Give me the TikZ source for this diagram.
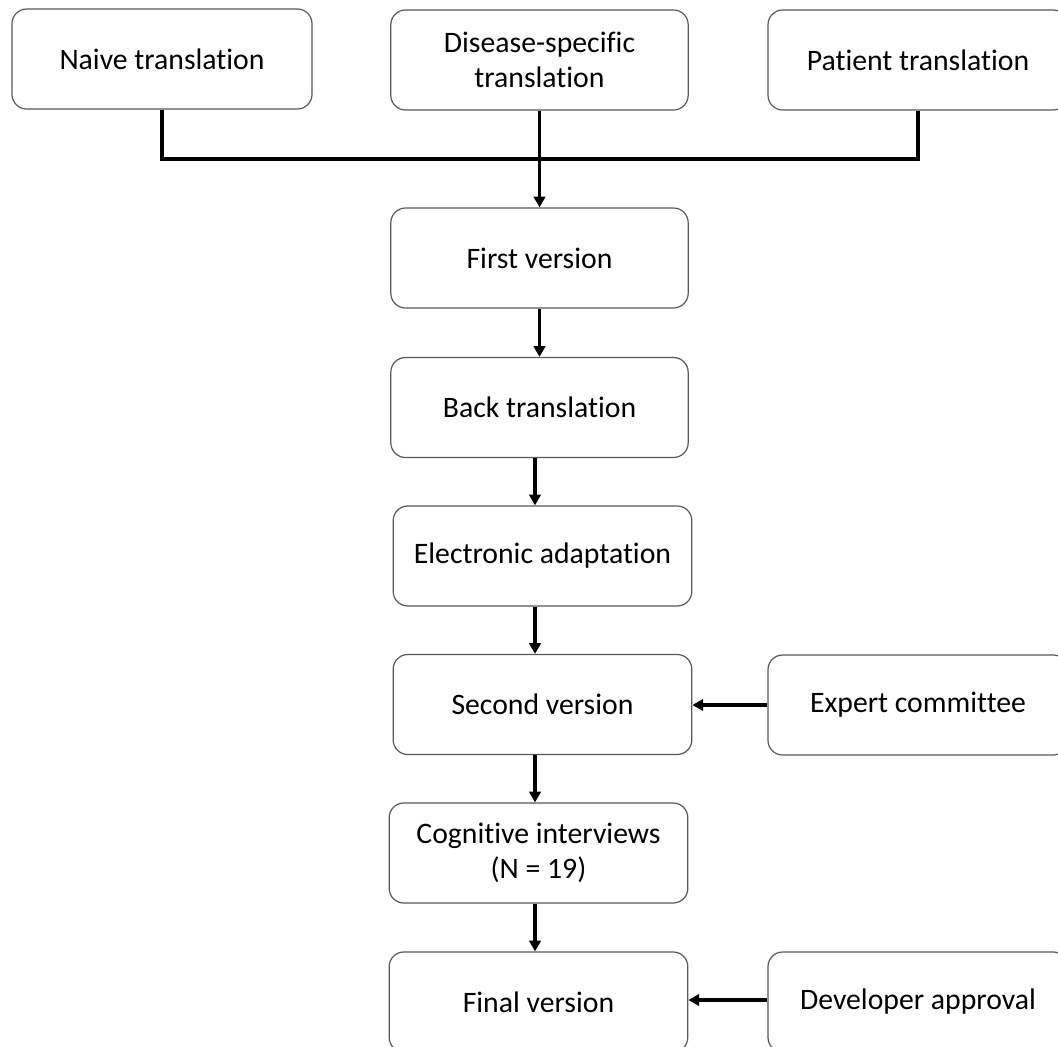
\documentclass[tikz,border=0pt]{standalone}
\usepackage{fontspec}
\setmainfont{Carlito}[Ligatures=NoCommon]
\usetikzlibrary{arrows.meta}
\begin{document}
\begin{tikzpicture}[x=0.75pt,y=-0.75pt,
  box/.style={draw=black!65, line width=0.9pt, rounded corners=11pt, fill=white,
    align=center, inner sep=0pt, font=\fontsize{22.3}{26.5}\selectfont,
    minimum height=75pt},
  wbox/.style={box, minimum width=225pt},
  cbox/.style={box, minimum width=223pt},
  conn/.style={line width=2.6pt, line join=miter},
  arr/.style={conn, -{Triangle[length=8pt,width=8.5pt]}}]
\clip (0,0) rectangle (1058,1047);
\fill[white] (0,0) rectangle (1058,1047);
% top row
\node[wbox] (naive) at (162,59) {Naive translation};
\node[cbox] (disease) at (539.5,60) {Disease-specific\\translation};
\node[wbox] (patient) at (918,60) {Patient translation};
% column
\node[cbox] (first) at (539.5,258) {First version};
\node[cbox] (back) at (539.5,407.5) {Back translation};
\node[box, minimum width=224pt] (elec) at (542.5,556) {Electronic adaptation};
\node[box, minimum width=224pt] (second) at (542.5,704.5) {Second version};
\node[wbox] (expert) at (918,705) {Expert committee};
\node[box, minimum width=224pt] (cog) at (538.5,853) {Cognitive interviews\\(N = 19)};
\node[box, minimum width=224pt] (final) at (538.5,1002) {Final version};
\node[wbox] (dev) at (918,1002) {Developer approval};
% merge
\coordinate (jl) at (162,159);
\coordinate (jr) at (918,159);
\draw[conn] (naive.south) -- (jl) -- (jr) -- (patient.south);
\draw[arr] (disease.south) -- (first.north);
\draw[arr] (first.south) -- (back.north);
\draw[arr] ([xshift=-3.4pt]back.south) -- ([xshift=-3.4pt]back.south |- elec.north);
\draw[arr] ([xshift=-5.6pt]elec.south) -- ([xshift=-5.6pt]elec.south |- second.north);
\draw[arr] ([xshift=-5.6pt]second.south) -- ([xshift=-5.6pt]second.south |- cog.north);
\draw[arr] ([xshift=-2.6pt]cog.south) -- ([xshift=-2.6pt]cog.south |- final.north);
\draw[arr] (expert.west) -- (expert.west -| second.east);
\draw[arr] ([yshift=1.5pt]dev.west) -- ([yshift=1.5pt]dev.west -| final.east);
\end{tikzpicture}
\end{document}
